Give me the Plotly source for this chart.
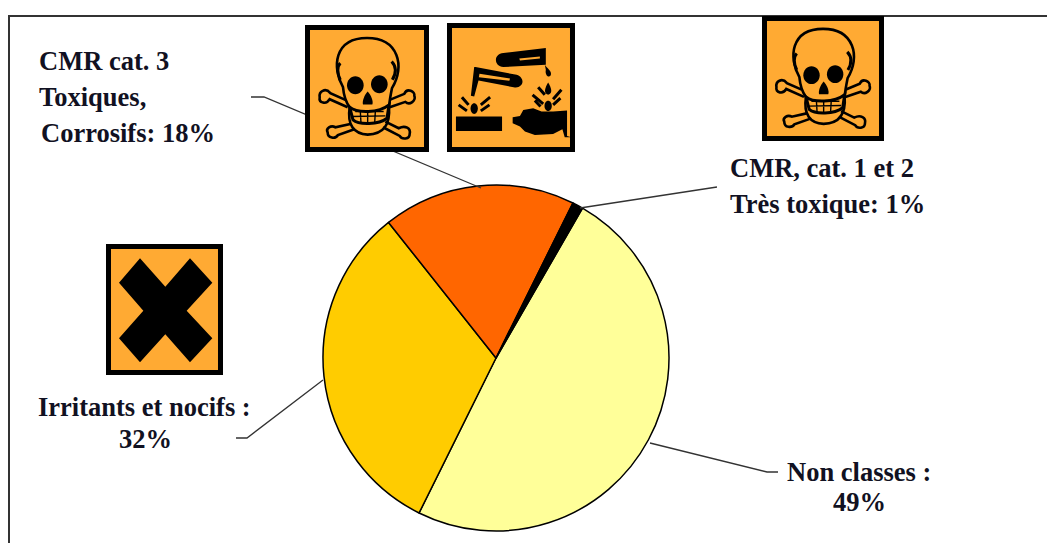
import re
import plotly.graph_objects as go

W, H = 1047, 543
categories = ["Non classes", "Irritants et nocifs", "CMR cat. 3 Toxiques, Corrosifs", "CMR, cat. 1 et 2 Très toxique"]
values = [49, 32, 18, 1]
slice_colors = ["#FFFF99", "#FFCC00", "#FF6600", "#000000"]
ORANGE = "#FFAA33"
BLACK = "#000000"

label_lines = [
    ("CMR cat. 3", 37, 61, "left"),
    ("Toxiques,", 37, 97, "left"),
    ("Corrosifs: 18%", 39, 133, "left"),
    ("CMR, cat. 1 et 2", 728, 168, "left"),
    ("Très toxique: 1%", 728, 204, "left"),
    ("Irritants et nocifs :", 144, 407, "center"),
    ("32%", 145, 439, "center"),
    ("Non classes :", 859, 472, "center"),
    ("49%", 859, 502, "center"),
]
leaders = [
    [(251, 97), (264, 97), (481, 188)],
    [(580, 208), (717, 187)],
    [(236, 438), (247, 438), (323, 380)],
    [(650, 443), (767, 472), (778, 472)],
]


def fx(x):
    return x / W


def fy(y):
    return 1 - y / H


def tr(s, f):
    out, pending = [], None
    for t in re.findall(r"[A-Za-z]|-?\d+\.?\d*", s):
        if t.isalpha():
            out.append(t)
        elif pending is None:
            pending = float(t)
        else:
            px, py = f(pending, float(t))
            out.append(f"{fx(px):.5f},{fy(py):.5f}")
            pending = None
    return " ".join(out)


shapes = []


def add(s, f, fill=None, lw=0, color=BLACK):
    d = dict(type="path", xref="paper", yref="paper", path=tr(s, f), layer="above")
    d["line"] = dict(color=color, width=lw) if lw else dict(width=0)
    d["fillcolor"] = fill if fill else "rgba(0,0,0,0)"
    shapes.append(d)


def circle(cx, cy, rx, ry=None):
    ry = ry or rx
    k = 0.55
    return (f"M{cx-rx},{cy} C{cx-rx},{cy-k*ry} {cx-k*rx},{cy-ry} {cx},{cy-ry} "
            f"C{cx+k*rx},{cy-ry} {cx+rx},{cy-k*ry} {cx+rx},{cy} "
            f"C{cx+rx},{cy+k*ry} {cx+k*rx},{cy+ry} {cx},{cy+ry} "
            f"C{cx-k*rx},{cy+ry} {cx-rx},{cy+k*ry} {cx-rx},{cy} Z")


def frame(x0, y0, x1, y1, b=5):
    f = lambda x, y: (x, y)
    add(f"M{x0},{y0} L{x1},{y0} L{x1},{y1} L{x0},{y1} Z", f, fill=BLACK)
    add(f"M{x0+b},{y0+b} L{x1-b},{y0+b} L{x1-b},{y1-b} L{x0+b},{y1-b} Z", f, fill=ORANGE)


def skull(x0, y0, x1, y1):
    frame(x0, y0, x1, y1)
    f = lambda zx, zy: (x0 + (zx - 44) / 372 * (x1 - x0), y0 + (zy - 46) / 380 * (y1 - y0))
    bones = [
        "M172,292 L118,268 C108,285 85,280 88,262 C85,245 105,232 120,250 L165,270",
        "M298,292 L345,276 C358,288 378,272 372,258 C375,245 350,232 342,252 L298,270",
        "M180,342 L135,352 C122,345 105,355 112,368 C112,385 135,388 143,375 L192,358",
        "M285,335 L325,355 C345,345 362,355 358,372 C358,388 335,390 328,378 L278,352",
    ]
    for b in bones:
        add(b, f, lw=2.6)
    add("M158,232 C125,175 130,85 230,85 C325,85 345,170 305,235 C300,260 298,270 296,290 "
        "C300,345 280,372 232,374 C190,372 170,345 178,292 C165,275 160,255 158,232 Z",
        f, lw=2.6)
    add("M150,210 C140,190 140,170 150,160", f, lw=3)
    add("M306,210 C318,190 318,170 304,155", f, lw=3)
    add(circle(195, 226, 25, 27), f, fill=BLACK)
    add(circle(267, 223, 25, 27), f, fill=BLACK)
    add("M232,245 C222,255 215,275 218,284 L246,284 C250,275 242,255 232,245 Z", f, fill=BLACK)
    add("M178,292 C200,310 265,310 296,285 L290,325 C265,345 205,345 188,330 Z", f, lw=3)
    add("M195,305 L280,305 M185,320 L285,318 M210,305 L212,340 M232,305 L232,342 M255,305 L253,340",
        f, lw=1.4)


def corrosive(x0, y0, x1, y1):
    frame(x0, y0, x1, y1)
    f = lambda zx, zy: (x0 + (zx - 470) / 386 * (x1 - x0), y0 + (zy - 40) / 386 * (y1 - y0))
    add("M640,130 L768,115 L768,165 L640,172 C610,170 610,132 640,130 Z", f, fill=BLACK)
    add("M688,146 L750,140 L750,146 L690,152 Z", f, fill=ORANGE)
    add("M765,165 C770,175 790,185 782,198 C775,205 765,195 768,180 Z", f, fill=BLACK)
    add("M556,172 L680,195 C708,205 700,235 675,233 L565,212 L552,260 L542,258 L552,172 Z", f, fill=BLACK)
    add("M568,192 L660,206 L658,213 L566,202 Z", f, fill=ORANGE)
    add(circle(552, 296, 11, 16), f, fill=BLACK)
    add(circle(775, 288, 11, 15), f, fill=BLACK)
    add("M775,218 C785,235 790,250 775,255 C760,250 765,235 775,218 Z", f, fill=BLACK)
    add("M497,320 L636,320 L636,363 L497,363 Z", f, fill=BLACK)
    add("M668,322 L690,318 L700,300 L730,295 L755,305 L790,305 L832,302 L832,378 L845,382 "
        "L825,382 L818,358 L790,372 L735,375 L705,365 L690,350 L668,340 Z", f, fill=BLACK)
    add("M515,262 L535,285 M505,285 L530,303 M600,262 L572,285 M598,285 L572,303 "
        "M728,255 L760,282 M735,272 L752,290 M815,240 L790,268 M812,265 L790,285 M745,232 L765,255",
        f, lw=3)


def irritant(x0, y0, x1, y1):
    frame(x0, y0, x1, y1)
    f = lambda zx, zy: (90 + zx / 3 + (x0 - 106), 235 + zy / 3 + (y0 - 244))
    add("M150,70 L226,155 L300,70 L367,143 L290,227 L367,310 L300,382 L226,298 "
        "L150,382 L87,310 L160,227 L87,143 Z", f, fill=BLACK)


# frame of the chart
for seg in ([(9, 16), (1047, 16)], [(9, 15), (9, 543)]):
    shapes.append(dict(type="line", xref="paper", yref="paper",
                       x0=fx(seg[0][0]), y0=fy(seg[0][1]), x1=fx(seg[1][0]), y1=fy(seg[1][1]),
                       line=dict(color="#333333", width=2), layer="above"))

# leader lines
for pts in leaders:
    s = "M" + " L".join(f"{x},{y}" for x, y in pts)
    add(s, lambda x, y: (x, y), lw=1.3, color="#333333")

skull(305, 25, 429, 152)
corrosive(447, 23, 575, 152)
skull(762, 16, 884, 141)
irritant(106, 244, 223, 375)

annotations = [
    dict(text=t, x=fx(x), y=fy(y), xref="paper", yref="paper", showarrow=False,
         xanchor=a, yanchor="middle", align=a,
         font=dict(family="Liberation Serif", size=26.5, color="#111122", weight="bold"))
    for t, x, y, a in label_lines
]

fig = go.Figure(go.Pie(
    labels=categories, values=values, sort=False, direction="clockwise", rotation=30,
    marker=dict(colors=slice_colors, line=dict(color="#000000", width=1.5)),
    textinfo="none", hoverinfo="label+percent",
    domain=dict(x=[fx(323), fx(669)], y=[fy(531), fy(185)]),
))
fig.update_layout(
    width=W, height=H, margin=dict(l=0, r=0, t=0, b=0), showlegend=False,
    paper_bgcolor="white", shapes=shapes, annotations=annotations,
)
fig.write_html("out.html", config=dict(displayModeBar=False),
               post_script="document.body.style.margin='0';")
